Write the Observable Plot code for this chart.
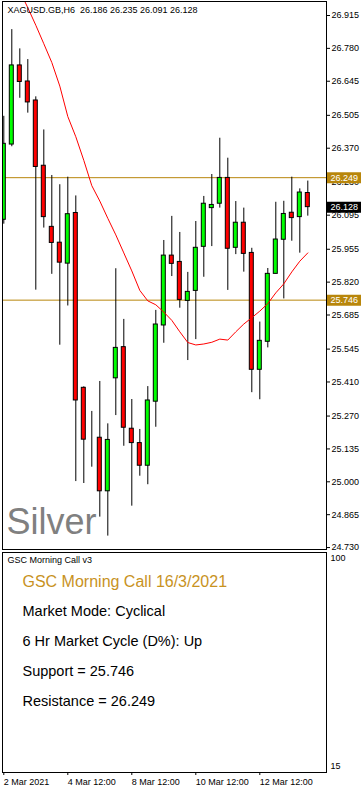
<!DOCTYPE html>
<html>
<head>
<meta charset="utf-8">
<script src="https://cdn.jsdelivr.net/npm/d3@7"></script>
<script src="https://cdn.jsdelivr.net/npm/@observablehq/plot@0.6"></script>
<style>
html, body { margin: 0; padding: 0; background: #fff; overflow: hidden; }
#wrap { position: relative; width: 361px; height: 791px; overflow: hidden; }
#main { position: absolute; left: 0; top: 0; }
#lower { position: absolute; left: 0; top: 551px; }
</style>
</head>
<body>
<div id="wrap"><div id="main"></div><div id="lower"></div></div>
<script>
// ---- data ----
const symbolName = "XAGUSD.GB,H6";
const watermark = "Silver";
const opens  = [26.076, 26.385, 26.710, 26.644, 26.566, 26.298, 26.047, 25.982, 25.896, 26.104,
                25.386, 25.179, 25.181, 24.961, 25.425, 25.553, 25.218, 25.159, 25.066, 25.329,
                25.642, 25.929, 25.903, 25.743, 25.784, 25.965, 26.124, 26.142, 26.248, 25.961,
                26.064, 25.940, 25.460, 25.575, 25.854, 25.994, 26.105, 26.087, 26.186];
const highs  = [26.501, 26.857, 26.778, 26.734, 26.581, 26.445, 26.258, 26.220, 26.251, 26.174,
                25.390, 25.289, 25.412, 25.238, 25.875, 25.667, 25.338, 25.215, 25.391, 25.704,
                25.991, 26.090, 26.024, 25.860, 26.069, 26.172, 26.262, 26.411, 26.329, 26.151,
                26.124, 25.959, 25.656, 25.876, 26.148, 26.152, 26.251, 26.203, 26.235];
const lows   = [26.058, 26.376, 26.575, 26.514, 25.787, 26.042, 25.852, 25.561, 25.722, 25.001,
                24.993, 25.060, 24.855, 24.777, 25.272, 25.146, 24.900, 25.023, 24.988, 25.224,
                25.569, 25.843, 25.713, 25.498, 25.584, 25.840, 25.966, 26.124, 25.786, 25.933,
                25.861, 25.366, 25.337, 25.550, 25.854, 25.751, 25.988, 25.939, 26.091];
const closes = [26.388, 26.710, 26.642, 26.558, 26.293, 26.087, 25.981, 25.900, 26.099, 25.334,
                25.173, 25.179, 24.961, 25.172, 25.550, 25.222, 25.159, 25.066, 25.334, 25.646,
                25.929, 25.895, 25.747, 25.780, 25.961, 26.142, 26.137, 26.248, 25.957, 26.064,
                25.936, 25.460, 25.579, 25.854, 25.995, 26.100, 26.083, 26.188, 26.128];
const movingAverage = [27.145, 27.079, 27.015, 26.947, 26.875, 26.799, 26.722, 26.625, 26.500, 26.417,
                26.320, 26.216, 26.153, 26.082, 26.014, 25.940, 25.866, 25.786, 25.743, 25.727,
                25.697, 25.663, 25.616, 25.572, 25.562, 25.566, 25.573, 25.586, 25.582, 25.616,
                25.648, 25.674, 25.701, 25.732, 25.776, 25.813, 25.862, 25.906, 25.940];
const support = 25.746;
const resistance = 26.249;
const priceTicks = [26.915, 26.780, 26.645, 26.505, 26.370, 26.230, 26.095, 25.955, 25.820,
                    25.685, 25.545, 25.410, 25.270, 25.135, 25.000, 24.865, 24.730];
const dateTickBars = [0, 8, 16, 24, 32];
const dateTickLabels = ["2 Mar 2021", "4 Mar 12:00", "8 Mar 12:00", "10 Mar 12:00", "12 Mar 12:00"];
const indicatorName = "GSC Morning Call v3";
const panelTitle = "GSC Morning Call 16/3/2021";
const panelLines = ["Market Mode: Cyclical", "6 Hr Market Cycle (D%): Up",
                    "Support = 25.746", "Resistance = 26.249"];
const oscTicks = [100, 15];

// ---- derived tables ----
const candles = opens.map((o, i) => ({i, open: o, high: highs[i], low: lows[i], close: closes[i]}));
const last = candles[candles.length - 1];
const f3 = d3.format(".3f");
const headerText = symbolName + "\u00a0\u00a0" + [last.open, last.high, last.low, last.close].map(f3).join(" ");
const GOLD = "#B8860B";
const levelBoxes = [
  {v: resistance, color: GOLD},
  {v: last.close, color: "#000000"},
  {v: support, color: GOLD}
];

const FONT = "'Liberation Sans', Arial, sans-serif";
const xDomain = [-0.1625, 40.3375];

const main = Plot.plot({
  width: 361, height: 551,
  marginLeft: 2, marginRight: 35, marginTop: 1, marginBottom: 2,
  style: {fontFamily: FONT, fontSize: "9px", color: "#000", background: "transparent", overflow: "visible"},
  x: {type: "linear", domain: xDomain, axis: null},
  y: {type: "linear", domain: [24.722, 26.9725], axis: null},
  marks: [
    Plot.text([watermark], {frameAnchor: "bottom-left", dx: 4, dy: -16, fontSize: 36, fill: "#808080", fontFamily: FONT}),
    Plot.ruleY([resistance, support], {stroke: GOLD, strokeWidth: 1}),
    Plot.ruleX(candles, {x: "i", y1: "low", y2: "high", stroke: "#000", strokeWidth: 1, clip: true}),
    Plot.rect(candles, {
      x1: d => d.i - 0.25, x2: d => d.i + 0.25, y1: "open", y2: "close",
      fill: d => d.close >= d.open ? "#00FF00" : "#FF0000",
      stroke: "#000", strokeWidth: 1, clip: true
    }),
    Plot.line(movingAverage, {x: (d, i) => i, y: d => d, stroke: "#FF0000", strokeWidth: 1, clip: true}),
    Plot.axisY(priceTicks, {anchor: "right", tickSize: 3, tickPadding: 2, tickFormat: f3, fontSize: 9, fill: "#000", stroke: "#000"}),
    Plot.ruleY(levelBoxes, {y: "v", x1: xDomain[1] + 0.12, x2: xDomain[1] + 4.6, stroke: "color", strokeWidth: 11}),
    Plot.text(levelBoxes, {y: "v", x: xDomain[1], dx: 4, textAnchor: "start", text: d => f3(d.v), fill: "#fff", fontSize: 9}),
    Plot.text([headerText], {frameAnchor: "top-left", dx: 5, dy: 5, fontSize: 9, fill: "#000"}),
    Plot.frame({stroke: "#000", strokeWidth: 1})
  ]
});
document.getElementById("main").appendChild(main);

const lower = Plot.plot({
  width: 361, height: 240,
  marginLeft: 2, marginRight: 35, marginTop: 1, marginBottom: 19,
  style: {fontFamily: FONT, fontSize: "9px", color: "#000", background: "transparent", overflow: "visible"},
  x: {type: "linear", domain: xDomain, axis: null},
  y: {type: "linear", domain: [12.55, 102.45], axis: null},
  marks: [
    Plot.axisY(oscTicks, {anchor: "right", tickSize: 0, tickPadding: 4, fontSize: 9}),
    Plot.axisX(dateTickBars, {
      anchor: "bottom", tickSize: 3, tickPadding: 3, textAnchor: "start", fontSize: 9,
      tickFormat: d => dateTickLabels[dateTickBars.indexOf(d)]
    }),
    Plot.text([indicatorName], {frameAnchor: "top-left", dx: 5, dy: 4.6, fontSize: 9, fill: "#000"}),
    Plot.text([panelTitle], {frameAnchor: "top-left", dx: 20, dy: 23.3, fontSize: 16, fill: "#C8921E"}),
    ...panelLines.map((t, k) => Plot.text([t], {frameAnchor: "top-left", dx: 20, dy: 53.7 + 29.9 * k, fontSize: 14.5, fill: "#000"})),
    Plot.frame({stroke: "#000", strokeWidth: 1})
  ]
});
document.getElementById("lower").appendChild(lower);
</script>
</body>
</html>
